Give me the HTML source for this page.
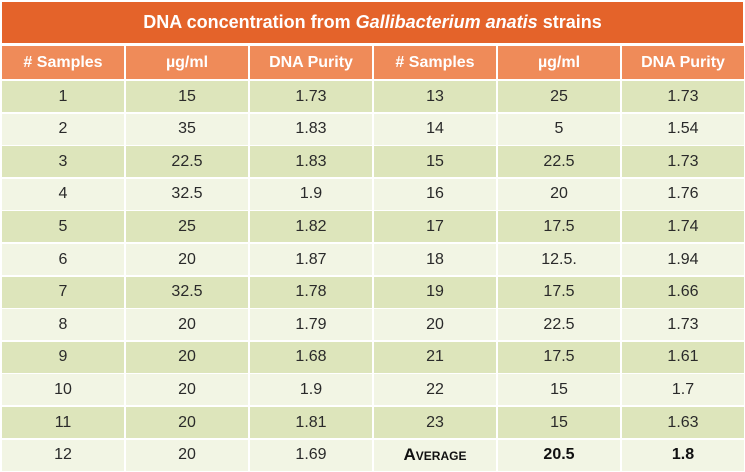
<!DOCTYPE html>
<html><head><meta charset="utf-8"><style>
body{margin:0;width:745px;height:472px;background:#fff;position:relative;overflow:hidden;font-family:"Liberation Sans",sans-serif;}
.c{position:absolute;display:flex;align-items:center;justify-content:center;font-size:16px;color:#2a2a2a;}
.t{position:absolute;left:2px;top:2px;width:741px;height:41px;background:#e4632a;color:#fff;font-weight:bold;font-size:18px;display:flex;align-items:center;justify-content:center;}
.h{background:#ef8b59;color:#fff;font-weight:bold;}
.g{background:#dde5bb;}
.l{background:#f2f5e4;}
</style></head><body>
<div class="t">DNA concentration from&nbsp;<i>Gallibacterium anatis</i>&nbsp;strains</div>
<div id="tbl"></div>
<script>
const headers=["# Samples","µg/ml","DNA Purity","# Samples","µg/ml","DNA Purity"];
const samplesA=["1","2","3","4","5","6","7","8","9","10","11","12"];
const concA=["15","35","22.5","32.5","25","20","32.5","20","20","20","20","20"];
const purityA=["1.73","1.83","1.83","1.9","1.82","1.87","1.78","1.79","1.68","1.9","1.81","1.69"];
const samplesB=["13","14","15","16","17","18","19","20","21","22","23","Average"];
const concB=["25","5","22.5","20","17.5","12.5.","17.5","22.5","17.5","15","15","20.5"];
const purityB=["1.73","1.54","1.73","1.76","1.74","1.94","1.66","1.73","1.61","1.7","1.63","1.8"];
const xs=[2,126,250,374,498,622];
const tbl=document.getElementById('tbl');
function cell(txt,x,y,h,cls,name){
  const d=document.createElement('div');
  d.className='c '+cls;
  d.style.left=x+'px';d.style.top=y+'px';d.style.width='122px';d.style.height=h+'px';
  d.textContent=txt;
  
  
  tbl.appendChild(d);
  return d;
}
headers.forEach((h,i)=>cell(h,xs[i],46,33,'h','column-header'));
for(let r=0;r<12;r++){
  const y=81+r*32.6;
  const cls=(r%2==0)?'g':'l';
  const vals=[samplesA[r],concA[r],purityA[r],samplesB[r],concB[r],purityB[r]];
  vals.forEach((v,i)=>{
    const d=cell(v,xs[i],y,31,cls,'table-cell');
    if(r==11&&i>=3){d.style.fontWeight='bold';d.style.color='#111';}
    if(r==11&&i==3){d.style.fontVariant='small-caps';d.style.fontSize='17px';}
  });
}
</script>
</body></html>
